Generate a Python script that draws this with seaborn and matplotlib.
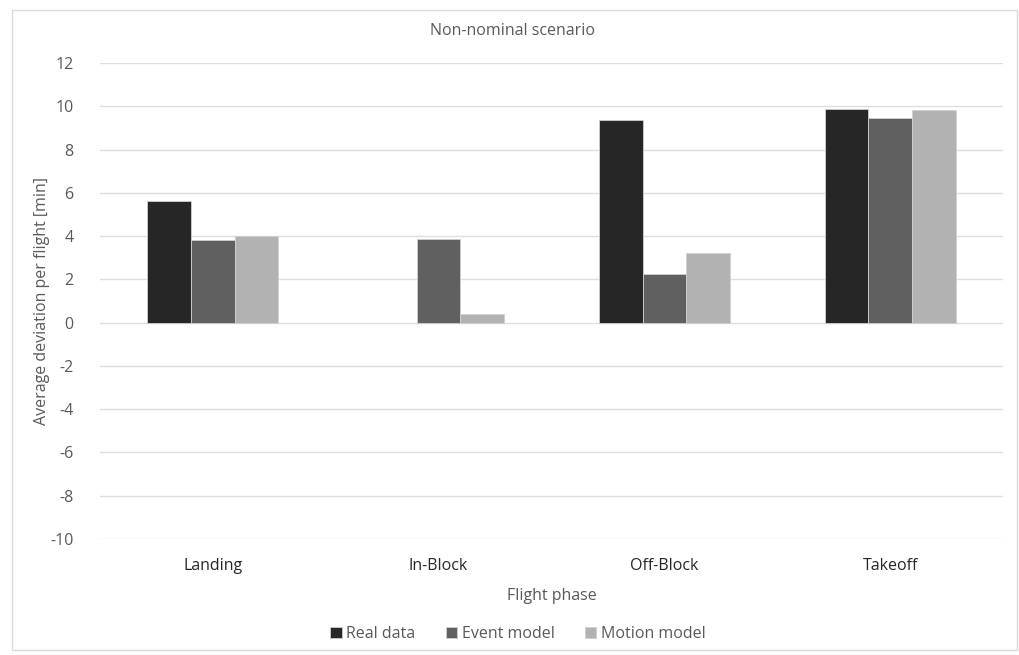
import numpy as np
import pandas as pd
import matplotlib
matplotlib.use("Agg")
import matplotlib.pyplot as plt
import seaborn as sns
from matplotlib.patches import Rectangle

# data
phases = ["Landing", "In-Block", "Off-Block", "Takeoff"]
series = ["Real data", "Event model", "Motion model"]
real_data = [5.62, np.nan, 9.37, 9.86]
event_model = [3.80, 3.86, 2.24, 9.46]
motion_model = [4.00, 0.40, 3.24, 9.85]
y_ticks = list(range(-10, 13, 2))

colors = ["#262626", "#606060", "#b2b2b2"]
text_grey = "#595959"

df = pd.DataFrame({
    "phase": phases * 3,
    "series": [s for s in series for _ in phases],
    "value": real_data + event_model + motion_model,
})

sns.set_theme(style="white")
plt.rcParams["font.family"] = ["Open Sans", "DejaVu Sans"]
plt.rcParams["axes.unicode_minus"] = False

fig = plt.figure(figsize=(10.19, 6.55), dpi=100)
ax = fig.add_axes([100 / 1019, 1 - 539 / 655, 903 / 1019, 476 / 655])

sns.barplot(data=df, x="phase", y="value", hue="series", order=phases,
            hue_order=series, palette=colors, width=0.58, ax=ax,
            edgecolor="#d0d0d0", linewidth=0.6, saturation=1, errorbar=None)

ax.set_ylim(-10, 12)
ax.set_yticks(y_ticks)
ax.set_xlim(-0.5, 3.5)
ax.yaxis.grid(True, color="#dedede", linewidth=1)
ax.set_axisbelow(True)
for sp in ax.spines.values():
    sp.set_visible(False)
ax.tick_params(axis="both", length=0)
ax.tick_params(axis="y", labelsize=11.5, labelcolor=text_grey, pad=19)
ax.tick_params(axis="x", labelsize=11.5, labelcolor="#262626", pad=14)

ax.set_xlabel("Flight phase", fontsize=11.5, color=text_grey, labelpad=10)
ax.set_ylabel("Average deviation per flight [min]", fontsize=11.5,
              color=text_grey)
ax.yaxis.set_label_coords(-50 / 903, 0.5)
fig.text(513 / 1019, 1 - 31 / 655, "Non-nominal scenario", fontsize=11.5,
         color=text_grey, ha="center", va="center")

handles, labels = ax.get_legend_handles_labels()
ax.legend(handles, labels, loc="center", bbox_to_anchor=(518 / 1019, 21 / 655),
          bbox_transform=fig.transFigure, ncol=3, frameon=False,
          fontsize=11.5, labelcolor=text_grey, handlelength=0.7,
          handleheight=0.7, handletextpad=0.3, columnspacing=1.9)

# light frame around the whole chart
fig.patches.append(Rectangle((12 / 1019, 5 / 655), 1005 / 1019, 640 / 655,
                             transform=fig.transFigure, fill=False,
                             edgecolor="#d9d9d9", linewidth=1))

fig.savefig("out.png", dpi=100)
